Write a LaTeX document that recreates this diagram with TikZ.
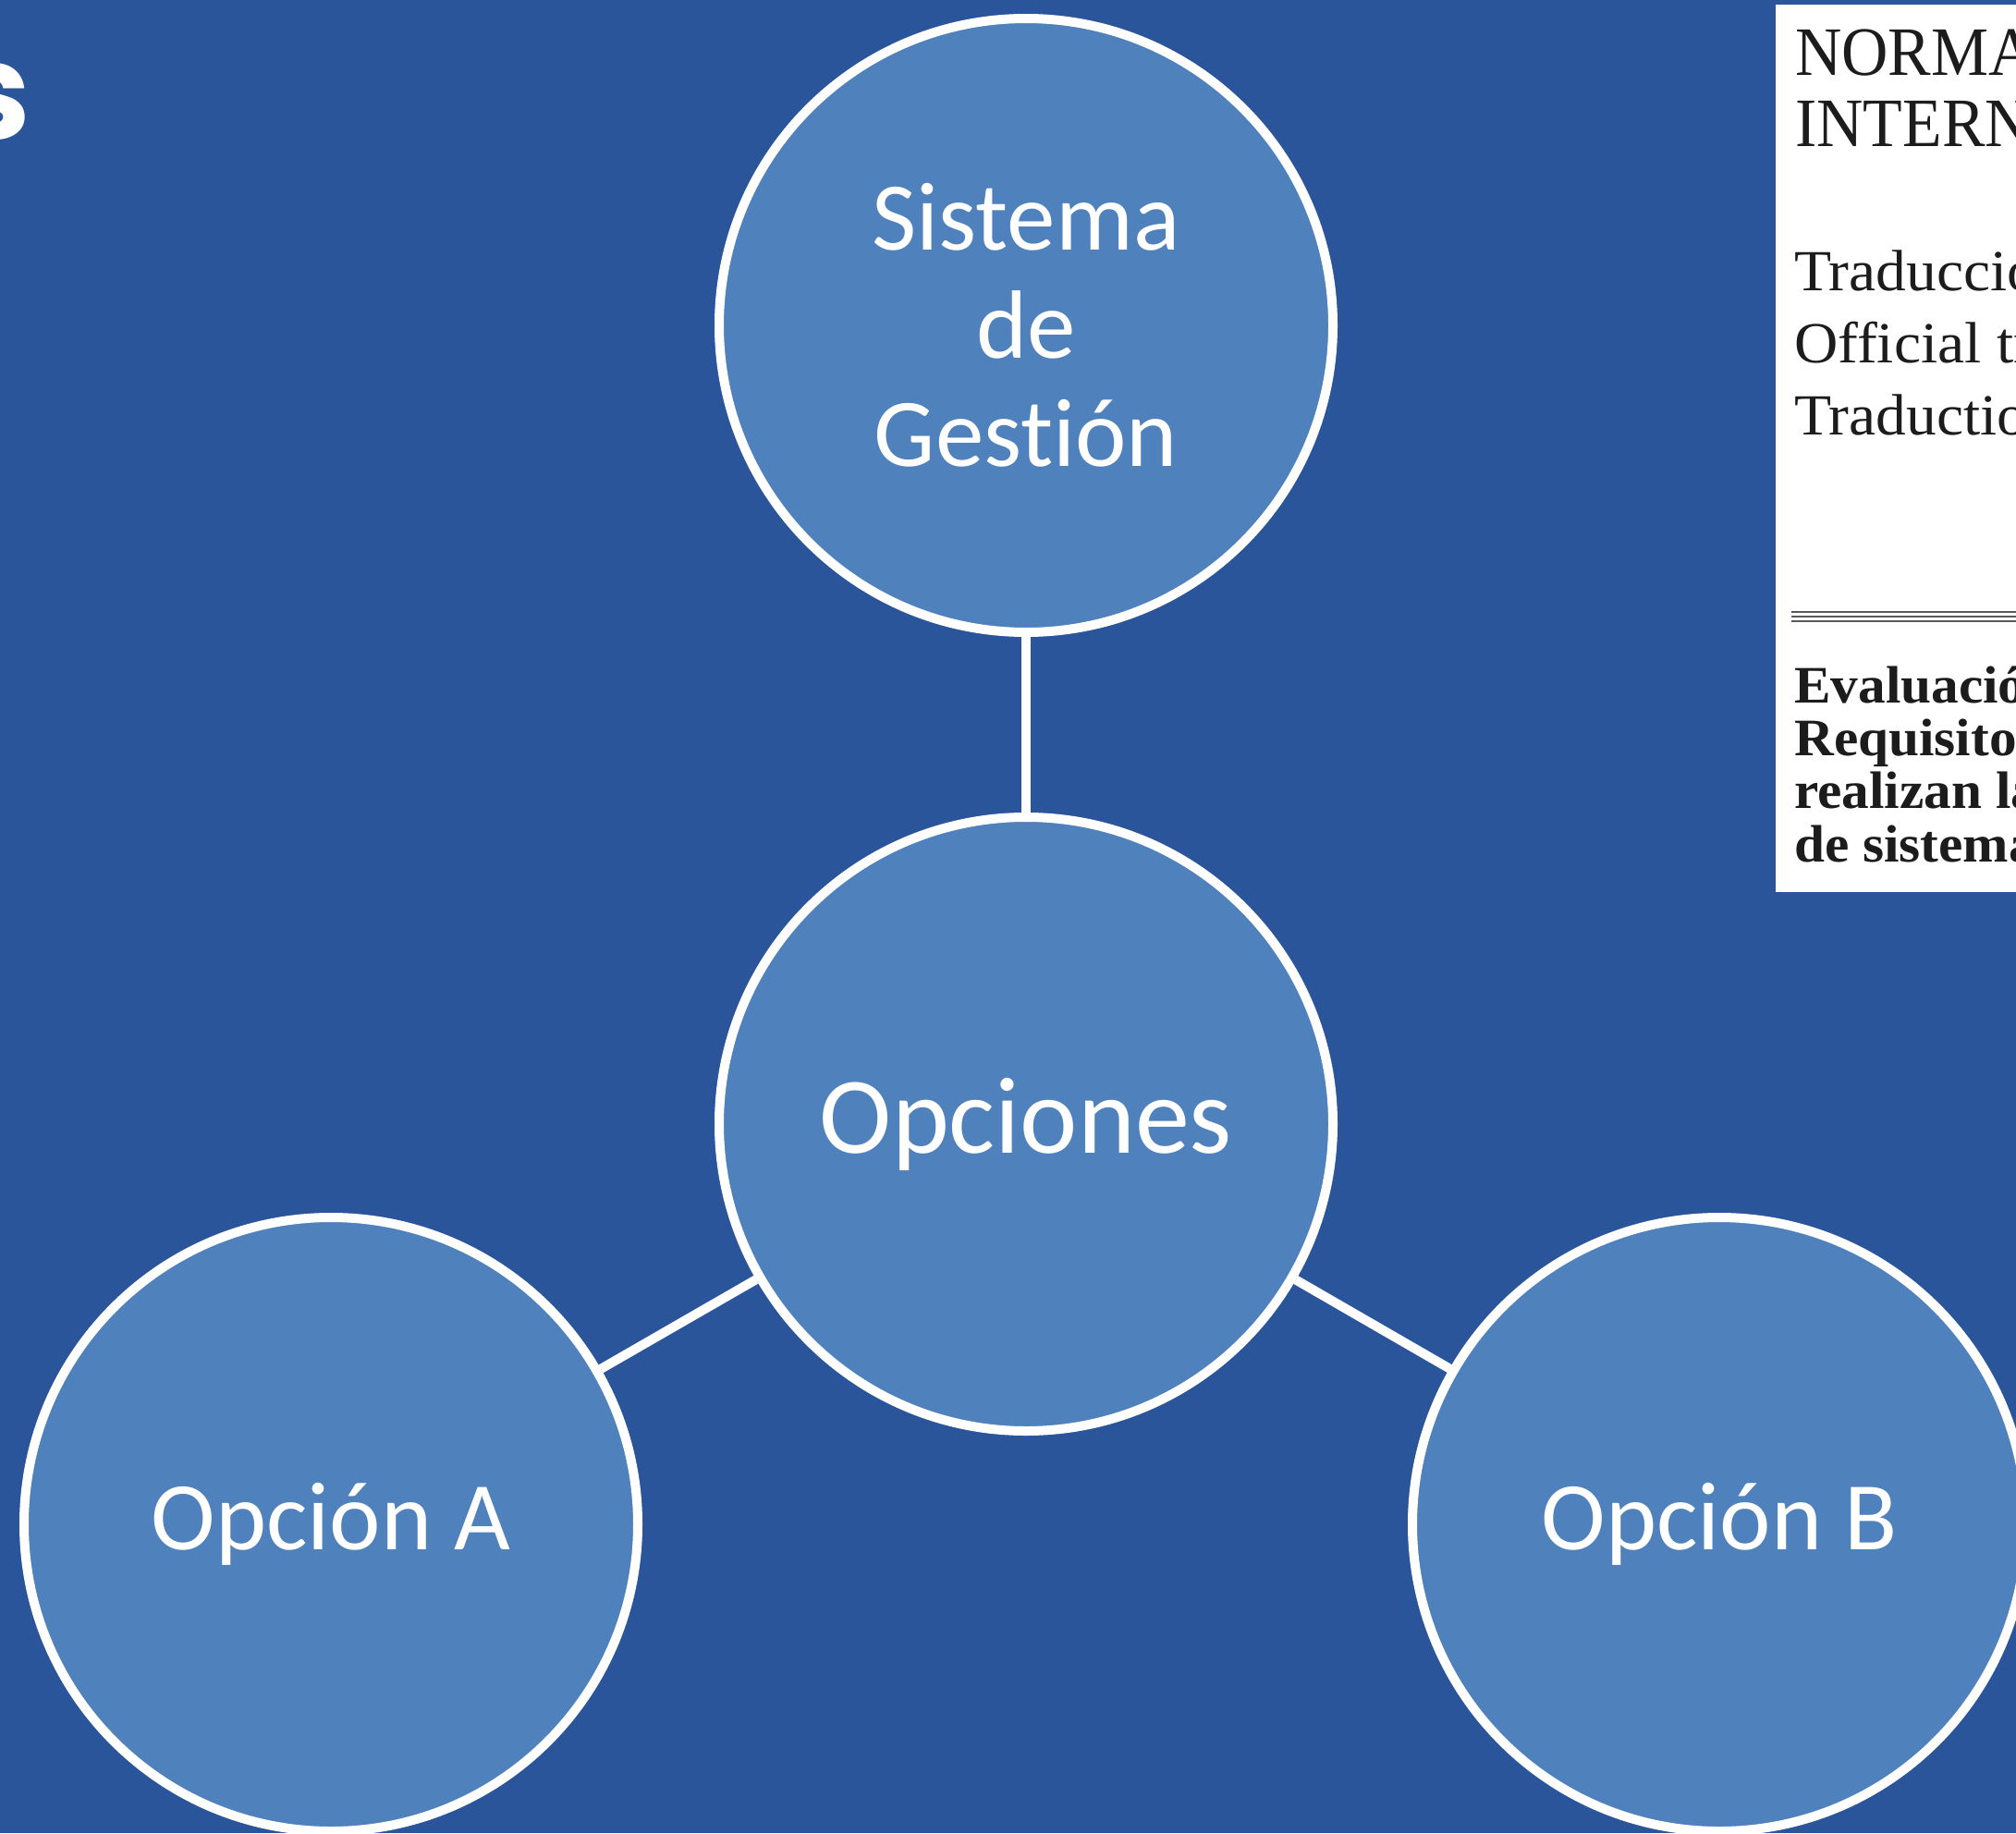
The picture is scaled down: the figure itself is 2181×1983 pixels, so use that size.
\documentclass[tikz,border=0pt]{standalone}
\usepackage{fontspec}
\setmainfont{Carlito}[Ligatures={NoCommon}]
\newfontfamily\boxserif[FakeStretch=1.04]{Liberation Serif}
\newfontfamily\boxserifn[FakeStretch=0.93]{Liberation Serif}
\newfontfamily\headfont{Poppins}
\definecolor{bgblue}{RGB}{43,85,155}
\definecolor{circfill}{RGB}{79,129,189}
\definecolor{inkdark}{RGB}{28,28,28}
\tikzset{
  bubble/.style={circle, draw=white, line width=10pt, fill=circfill, minimum size=664pt,
    inner sep=0pt, text=white, align=center, font=\fontsize{105}{117}\selectfont},
  link/.style={draw=white, line width=10pt},
  boxtxt/.style={anchor=base west, inner sep=0pt, text=inkdark},
  rulestyle/.style={draw=gray!70!black, line width=1.6pt}
}
\begin{document}
\begin{tikzpicture}[x=1pt,y=-1pt]
\useasboundingbox (0,0) rectangle (2181,1983);
\clip (0,0) rectangle (2181,1983);
\fill[bgblue] (0,0) rectangle (2181,1983);

% heading fragment
\node[anchor=base east, inner sep=0pt, text=white, font=\headfont\bfseries\fontsize{145}{150}\selectfont] (head) at (34,150) {s};

% document page on the right
\fill[white] (1921,5) rectangle (2200,965);
\node[boxtxt, font=\boxserifn\fontsize{75}{76}\selectfont] (l1) at (1942,82) {NORMA};
\node[boxtxt, font=\boxserifn\fontsize{75}{76}\selectfont] (l2) at (1942,158) {INTERNACIONAL};
\node[boxtxt, font=\boxserif\fontsize{63}{78}\selectfont] (l3) at (1941,314) {Traducción oficial};
\node[boxtxt, font=\boxserif\fontsize{63}{78}\selectfont] (l4) at (1941,392) {Official translation};
\node[boxtxt, font=\boxserif\fontsize{63}{78}\selectfont] (l5) at (1941,470) {Traduction officielle};
\coordinate (r1a) at (1938,662); \coordinate (r1b) at (2190,662);
\coordinate (r2a) at (1938,667); \coordinate (r2b) at (2190,667);
\coordinate (r3a) at (1938,672); \coordinate (r3b) at (2190,672);
\draw[rulestyle] (r1a) -- (r1b);
\draw[rulestyle] (r2a) -- (r2b);
\draw[rulestyle] (r3a) -- (r3b);
\node[boxtxt, font=\boxserif\bfseries\fontsize{57}{58}\selectfont] (b1) at (1941,760) {Evaluación de la conformidad};
\node[boxtxt, font=\boxserif\bfseries\fontsize{57}{58}\selectfont] (b2) at (1941,817) {Requisitos para los organismos};
\node[boxtxt, font=\boxserif\bfseries\fontsize{57}{58}\selectfont] (b3) at (1941,874) {realizan la auditoría};
\node[boxtxt, font=\boxserif\bfseries\fontsize{57}{58}\selectfont] (b4) at (1941,932) {de sistemas de gestión};

% circles
\node[bubble] (sg) at (1110,352) {Sistema\\de\\Gestión};
\node[bubble, font=\fontsize{118}{120}\selectfont] (op) at (1110,1216) {Opciones};
\node[bubble] (oa) at (358,1649) {Opción A};
\node[bubble] (ob) at (1860,1649) {Opción B};

\draw[link] (sg) -- (op);
\draw[link] (op) -- (oa);
\draw[link] (op) -- (ob);
\end{tikzpicture}
\end{document}
